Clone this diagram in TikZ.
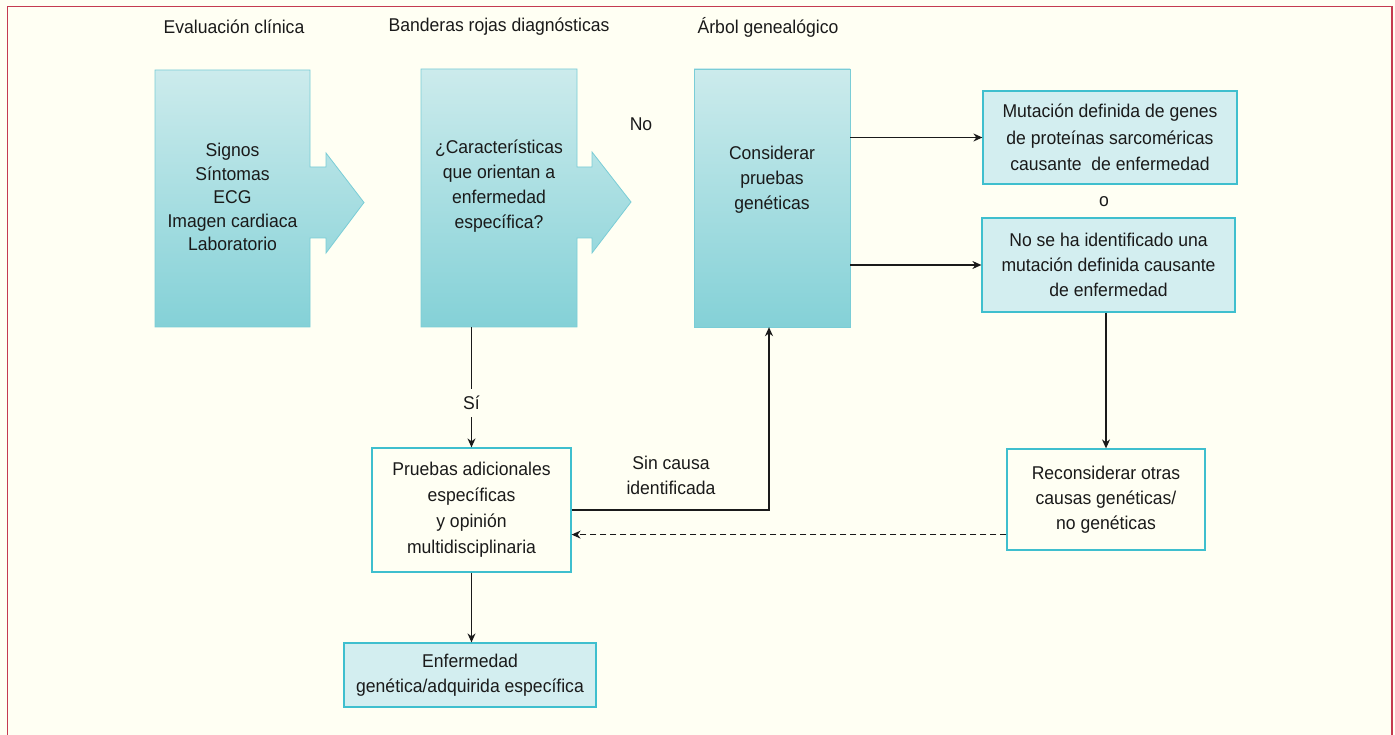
\documentclass[tikz,border=0pt]{standalone}
\usepackage{fontspec}
\setmainfont{Liberation Sans}[FakeStretch=0.95]
\usetikzlibrary{arrows.meta,calc}
\definecolor{bg}{HTML}{FFFFF3}
\definecolor{framered}{HTML}{C43A50}
\definecolor{tealtop}{HTML}{CCEBEC}
\definecolor{tealbot}{HTML}{84D1D7}
\definecolor{tealedge}{HTML}{7ACDD6}
\definecolor{lightfill}{HTML}{D3EEF0}
\definecolor{boxedge}{HTML}{3FBFCE}
\definecolor{ink}{HTML}{1A1A1A}

\begin{document}
\begin{tikzpicture}[x=1pt,y=-1pt,
  every node/.style={font=\fontsize{18.5}{25}\selectfont, text=ink, align=center},
  colslot/.style={rectangle, inner sep=0pt, minimum width=156pt, minimum height=258pt},
  panel/.style={top color=tealtop, bottom color=tealbot, draw=tealedge, line width=0.8pt},
  outbox/.style={rectangle, draw=boxedge, line width=1.2pt, fill=lightfill, inner sep=0pt},
  plainbox/.style={rectangle, draw=boxedge, line width=1.2pt, fill=bg, inner sep=0pt},
  link/.style={draw=ink, line width=1.2pt, -{Stealth[length=9pt,width=8pt]}},
]
\useasboundingbox (0,0) rectangle (1395,735);
\fill[bg] (0,0) rectangle (1395,735);

% shaded columns, the first two with block arrows
\path[panel] (155,70) -- (310,70) -- (310,167) -- (326,167) -- (326,153) -- (364,202.5)
  -- (326,253) -- (326,238) -- (310,238) -- (310,327) -- (155,327) -- cycle;
\path[panel] (421,69) -- (577,69) -- (577,167) -- (592,167) -- (592,152) -- (631,202)
  -- (592,253) -- (592,238) -- (577,238) -- (577,327) -- (421,327) -- cycle;
\path[panel] (694,69) rectangle (850,327);

\node[colslot, minimum width=155pt, minimum height=257pt] (eval) at (232.5,198.5) {};
\node[colslot] (flags) at (499,198) {};
\node[colslot] (consider) at (772,198) {};

% column headings
\node (h1) at (234,27) {Evaluación clínica};
\node (h2) at (499,27) {Banderas rojas diagnósticas};
\node (h3) at (768,27) {Árbol genealógico};

% column texts
\node[font=\fontsize{18.5}{23.5}\selectfont] (evaltxt) at (232.5,197) {Signos\\Síntomas\\ECG\\Imagen cardiaca\\Laboratorio};
\node (flagstxt) at (499,186) {¿Características\\que orientan a\\enfermedad\\específica?};
\node (considertxt) at (772,180) {Considerar\\pruebas\\genéticas};
\node (no) at (641,124) {No};

% result boxes
\node[outbox, minimum width=254pt, minimum height=93pt, font=\fontsize{18.5}{26.5}\selectfont] (mut) at (1110,137.5)
  {Mutación definida de genes\\de proteínas sarcoméricas\\causante\ \ de enfermedad};
\node (or) at (1104,202) {o};
\node[outbox, minimum width=253pt, minimum height=94pt] (nomut) at (1108.5,265)
  {No se ha identificado una\\mutación definida causante\\de enfermedad};
\node[plainbox, minimum width=198pt, minimum height=101pt] (recon) at (1106,499.5)
  {Reconsiderar otras\\causas genéticas/\\no genéticas};
\node[plainbox, minimum width=199pt, minimum height=124pt, font=\fontsize{18.5}{26}\selectfont] (extra) at (471.5,510)
  {Pruebas adicionales\\específicas\\y opinión\\multidisciplinaria};
\node[outbox, minimum width=252pt, minimum height=64pt] (enf) at (470,675)
  {Enfermedad\\genética/adquirida específica};
\node (sincausa) at (671,475) {Sin causa\\identificada};

% connectors
\draw[link] (mut.west -| consider.east) -- (mut.west);
\draw[link] (nomut.west -| consider.east) -- (nomut.west);
\draw[link] (recon.north |- nomut.south) -- (recon.north);
\draw[link, dash pattern=on 6pt off 4pt] ([yshift=16pt]recon.south west) -- ([yshift=16pt]recon.south west -| extra.east);
\draw[link] (extra.east) -| ([xshift=-3pt]consider.south);
\draw[link] (extra.north |- flags.south) -- node[pos=0.63, fill=bg, inner xsep=2pt, inner ysep=7pt] (si) {Sí} (extra.north);
\draw[link] (extra.south) -- (extra.south |- enf.north);

% page frame
\draw[framered, line width=1.8pt] (7.5,745) -- (7.5,6.5) -- (1392,6.5) -- (1392,745);
\end{tikzpicture}
\end{document}
